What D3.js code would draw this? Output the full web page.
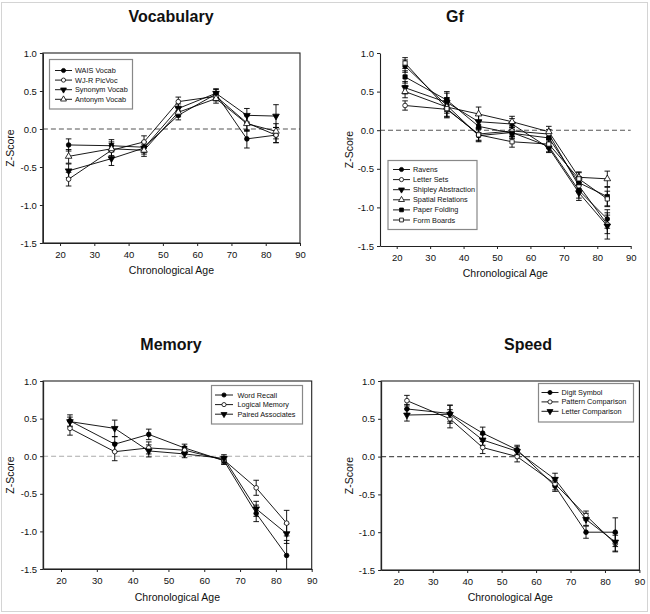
<!DOCTYPE html>
<html><head><meta charset="utf-8">
<script src="https://cdn.jsdelivr.net/npm/d3@7"></script>
<style>
body{margin:0;background:#fff}
svg{display:block}
text{font-family:"Liberation Sans",Arial,Helvetica,sans-serif;fill:#111}
</style>
</head><body>
<svg id="c" width="650" height="614"></svg>
<script>
// ---------- data ----------
const ages = [22.5, 35, 44.5, 54.5, 65.5, 74.5, 83];
const xTicks = [20, 30, 40, 50, 60, 70, 80, 90];
const yTicks = [1.0, 0.5, 0.0, -0.5, -1.0, -1.5];

// Vocabulary
const vocabNames = ["WAIS Vocab", "WJ-R PicVoc", "Synonym Vocab", "Antonym Vocab"];
const waisVocab    = [-0.21, -0.22, -0.24, 0.18, 0.46, -0.13, -0.08];
const wjrPicVoc    = [-0.66, -0.28, -0.17, 0.36, 0.43, 0.08, -0.08];
const synonymVocab = [-0.55, -0.39, -0.25, 0.27, 0.47, 0.18, 0.17];
const antonymVocab = [-0.36, -0.26, -0.28, 0.22, 0.40, 0.07, -0.03];
const waisVocabErr    = [0.08, 0.08, 0.07, 0.06, 0.06, 0.12, 0.10];
const wjrPicVocErr    = [0.09, 0.09, 0.08, 0.06, 0.06, 0.10, 0.10];
const synonymVocabErr = [0.09, 0.09, 0.08, 0.06, 0.06, 0.09, 0.15];
const antonymVocabErr = [0.09, 0.09, 0.08, 0.06, 0.06, 0.10, 0.10];

// Gf
const gfNames = ["Ravens", "Letter Sets", "Shipley Abstraction", "Spatial Relations", "Paper Folding", "Form Boards"];
const ravens       = [0.83, 0.32, -0.07, -0.03, -0.21, -0.78, -1.15];
const letterSets   = [0.32, 0.27, -0.05, -0.01, -0.05, -0.72, -1.22];
const shipley      = [0.55, 0.36, 0.11, 0.08, -0.23, -0.81, -1.24];
const spatialRel   = [0.50, 0.30, 0.21, 0.11, -0.02, -0.61, -0.63];
const paperFolding = [0.69, 0.39, 0.05, -0.04, -0.10, -0.68, -0.86];
const formBoards   = [0.87, 0.28, -0.06, -0.15, -0.18, -0.63, -0.89];
const ravensErr       = [0.08, 0.10, 0.08, 0.07, 0.07, 0.10, 0.12];
const letterSetsErr   = [0.06, 0.10, 0.08, 0.07, 0.06, 0.09, 0.12];
const shipleyErr      = [0.08, 0.12, 0.08, 0.07, 0.06, 0.10, 0.17];
const spatialRelErr   = [0.08, 0.12, 0.09, 0.07, 0.07, 0.07, 0.10];
const paperFoldingErr = [0.08, 0.11, 0.08, 0.07, 0.06, 0.08, 0.12];
const formBoardsErr   = [0.07, 0.12, 0.08, 0.07, 0.06, 0.08, 0.10];

// Memory
const memNames = ["Word Recall", "Logical Memory", "Paired Associates"];
const wordRecall    = [0.47, 0.16, 0.29, 0.11, -0.06, -0.76, -1.32];
const logicalMemory = [0.37, 0.06, 0.11, 0.08, -0.05, -0.42, -0.89];
const pairedAssoc   = [0.46, 0.37, 0.07, 0.03, -0.03, -0.70, -1.03];
const wordRecallErr    = [0.08, 0.10, 0.07, 0.05, 0.05, 0.11, 0.20];
const logicalMemoryErr = [0.09, 0.12, 0.08, 0.05, 0.05, 0.10, 0.17];
const pairedAssocErr   = [0.06, 0.11, 0.08, 0.05, 0.05, 0.10, 0.13];

// Speed
const speedNames = ["Digit Symbol", "Pattern Comparison", "Letter Comparison"];
const digitSymbol = [0.63, 0.57, 0.31, 0.09, -0.39, -1.00, -1.00];
const patternComp = [0.74, 0.50, 0.12, 0.00, -0.36, -0.78, -1.15];
const letterComp  = [0.55, 0.56, 0.22, 0.07, -0.30, -0.83, -1.13];
const digitSymbolErr = [0.06, 0.11, 0.08, 0.06, 0.07, 0.08, 0.19];
const patternCompErr = [0.07, 0.12, 0.08, 0.07, 0.08, 0.06, 0.11];
const letterCompErr  = [0.08, 0.12, 0.07, 0.06, 0.08, 0.08, 0.12];

// ---------- panel layout ----------
const panels = [
  {title:"Vocabulary", tx:171, ty:22, x0:42.9, x1:300, y0:53, y1:243, box:true, zero:"#555",
   names:vocabNames, values:[waisVocab, wjrPicVoc, synonymVocab, antonymVocab],
   errors:[waisVocabErr, wjrPicVocErr, synonymVocabErr, antonymVocabErr],
   markers:["fc","oc","ftd","otu"], ylab:10, xlabY:274,
   legend:{x:49.5, y:59.5, w:83, h:49.5, row0:70.5, dy:9.6, sx0:55, sx1:72, tx:75}},
  {title:"Gf", tx:455, ty:22, x0:380, x1:630.7, y0:53, y1:246, box:false, zero:"#555",
   names:gfNames, values:[ravens, letterSets, shipley, spatialRel, paperFolding, formBoards],
   errors:[ravensErr, letterSetsErr, shipleyErr, spatialRelErr, paperFoldingErr, formBoardsErr],
   markers:["fc","oc","ftd","otu","fs","os"], ylab:349, xlabY:277,
   legend:{x:388, y:160.5, w:89, h:69, row0:169.5, dy:10.1, sx0:393, sx1:410, tx:413}},
  {title:"Memory", tx:171, ty:350, x0:43.1, x1:311.7, y0:381, y1:569, box:true, zero:"#aaa",
   names:memNames, values:[wordRecall, logicalMemory, pairedAssoc],
   errors:[wordRecallErr, logicalMemoryErr, pairedAssocErr],
   markers:["fc","oc","ftd"], ylab:10, xlabY:601,
   legend:{x:211.5, y:385.5, w:91, h:38.5, row0:395, dy:9.6, sx0:215, sx1:233, tx:237.5}},
  {title:"Speed", tx:528, ty:350, x0:381.1, x1:639.4, y0:381, y1:570, box:true, zero:"#555",
   names:speedNames, values:[digitSymbol, patternComp, letterComp],
   errors:[digitSymbolErr, patternCompErr, letterCompErr],
   markers:["fc","oc","ftd"], ylab:349, xlabY:601,
   legend:{x:538.5, y:383.5, w:95, h:38.5, row0:392.5, dy:9.4, sx0:541.5, sx1:558.5, tx:561.5}}
];

const svg = d3.select("#c");
svg.append("rect").attr("x",1.5).attr("y",2.5).attr("width",646).attr("height",609)
   .attr("fill","none").attr("stroke","#d4d4d4");

function drawMarker(g, type, cx, cy, scale) {
  const k = scale || 1;
  const filled = type[0] === "f";
  let sym, size, rot = 0;
  if (type.endsWith("c")) { sym = d3.symbolCircle; size = 17 * k; }
  else if (type.endsWith("s")) { sym = d3.symbolSquare; size = 18 * k; }
  else { sym = d3.symbolTriangle; size = 19 * k; if (type === "ftd") rot = 180; }
  g.append("path")
    .attr("d", d3.symbol().type(sym).size(size)())
    .attr("transform", `translate(${cx},${cy}) rotate(${rot})`)
    .attr("fill", filled ? "#000" : "#fff")
    .attr("stroke", "#000").attr("stroke-width", 0.8);
}

panels.forEach((p, pi) => {
  const x = d3.scaleLinear().domain([15, 90]).range([p.x0, p.x1]);
  const y = d3.scaleLinear().domain([-1.5, 1.0]).range([p.y1, p.y0]);
  const g = svg.append("g");

  // title
  g.append("text").attr("x", p.tx).attr("y", p.ty).attr("text-anchor","middle")
   .style("font-size","16px").style("font-weight","bold").text(p.title);

  // clip
  const cid = "clip" + pi;
  svg.append("clipPath").attr("id", cid).append("rect")
     .attr("x", p.x0).attr("y", p.y0).attr("width", p.x1 - p.x0).attr("height", p.y1 - p.y0);

  // zero line
  g.append("line").attr("x1", p.x0).attr("x2", p.x1).attr("y1", y(0)).attr("y2", y(0))
   .attr("stroke", p.zero).attr("stroke-width", 1.1).attr("stroke-dasharray", "5,3");

  // axes
  const ya = d3.axisLeft(y).tickValues(yTicks).tickFormat(d => d.toFixed(1)).tickSize(3).tickSizeOuter(0).tickPadding(3);
  const xa = d3.axisBottom(x).tickValues(xTicks).tickFormat(d3.format("d")).tickSize(3).tickSizeOuter(0).tickPadding(5);
  const yg = g.append("g").attr("transform", `translate(${p.x0},0)`).call(ya);
  const xg = g.append("g").attr("transform", `translate(0,${p.y1})`).call(xa);
  [yg, xg].forEach(a => {
    a.selectAll("text").style("font-size","9.5px").attr("fill","#222")
      .style("font-family","'Liberation Sans',Arial,sans-serif");
    a.selectAll("line,path").attr("stroke","#222");
    a.select(".domain").attr("stroke-width", 1.1);
  });
  if (p.box) {
    g.append("rect").attr("x", p.x0).attr("y", p.y0).attr("width", p.x1 - p.x0).attr("height", p.y1 - p.y0)
     .attr("fill","none").attr("stroke","#222").attr("stroke-width",1.1);
  }

  // axis titles
  g.append("text").attr("x", (p.x0 + p.x1) / 2).attr("y", p.xlabY).attr("text-anchor","middle")
   .style("font-size","10.5px").text("Chronological Age");
  g.append("text").attr("transform", `translate(${p.ylab + 4},${(p.y0 + p.y1) / 2}) rotate(-90)`)
   .attr("text-anchor","middle").style("font-size","10.5px").text("Z-Score");

  const plot = g.append("g").attr("clip-path", `url(#${cid})`);
  const line = d3.line().x((d, i) => x(ages[i])).y(d => y(d));

  // lines
  p.values.forEach(v => {
    plot.append("path").attr("d", line(v)).attr("fill","none").attr("stroke","#000").attr("stroke-width",0.9);
  });
  // error bars
  p.values.forEach((v, si) => {
    v.forEach((val, i) => {
      const e = p.errors[si][i], cx = x(ages[i]);
      plot.append("line").attr("x1",cx).attr("x2",cx).attr("y1",y(val - e)).attr("y2",y(val + e))
        .attr("stroke","#000").attr("stroke-width",0.9);
      [val - e, val + e].forEach(t => {
        plot.append("line").attr("x1",cx - 2.8).attr("x2",cx + 2.8).attr("y1",y(t)).attr("y2",y(t))
          .attr("stroke","#000").attr("stroke-width",0.9);
      });
    });
  });
  // markers
  p.values.forEach((v, si) => {
    v.forEach((val, i) => drawMarker(plot, p.markers[si], x(ages[i]), y(val)));
  });

  // legend
  const L = p.legend;
  const lg = g.append("g");
  lg.append("rect").attr("x", L.x).attr("y", L.y).attr("width", L.w).attr("height", L.h)
    .attr("fill","#fff").attr("stroke","#888").attr("stroke-width",1.2);
  p.names.forEach((n, i) => {
    const ry = L.row0 + i * L.dy;
    lg.append("line").attr("x1", L.sx0).attr("x2", L.sx1).attr("y1", ry).attr("y2", ry)
      .attr("stroke","#000").attr("stroke-width",0.9);
    drawMarker(lg, p.markers[i], (L.sx0 + L.sx1) / 2, ry, 0.8);
    lg.append("text").attr("x", L.tx).attr("y", ry).attr("dy","0.35em")
      .style("font-size","7.3px").attr("fill","#222").text(n);
  });
});
</script>
</body></html>
